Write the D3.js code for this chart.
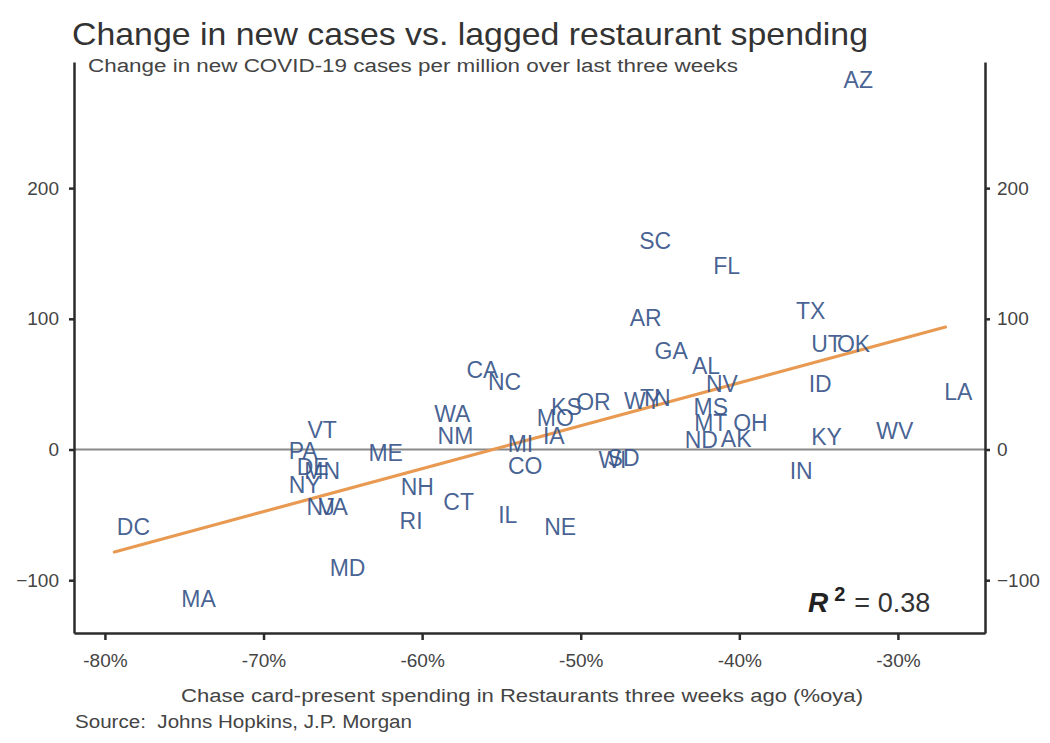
<!DOCTYPE html>
<html>
<head>
<meta charset="utf-8">
<script src="https://cdn.jsdelivr.net/npm/d3@7"></script>
<style>
  body { margin: 0; background: #fff; }
  text { font-family: "Liberation Sans", Arial, sans-serif; }
  .axis path, .axis line { stroke: #2b2b2b; stroke-width: 2.5; }
  .axis text { fill: #444; font-size: 19px; }
</style>
</head>
<body>
<div id="chart"></div>
<script>
// state codes with spending change (%oya) and case change per million
var states = ["AZ","SC","FL","TX","AR","UT","OK","GA","AL","NV","ID","LA","CA","NC",
  "KS","OR","MO","IA","MI","CO","WI","SD","WY","TN","MS","MT","OH","ND","AK","KY","WV","IN",
  "WA","NM","VT","PA","ME","DE","MN","NY","NJ","VA","NH","CT","RI","IL","NE","MD","DC","MA"];
var spending = [-32.5,-45.3,-40.8,-35.5,-45.9,-34.5,-32.8,-44.3,-42.1,-41.1,-34.9,-26.2,-56.2,-54.8,
  -50.9,-49.2,-51.6,-51.7,-53.8,-53.5,-48.0,-47.3,-46.1,-45.3,-41.8,-41.8,-39.3,-42.4,-40.2,-34.5,-30.2,-36.1,
  -58.1,-57.9,-66.3,-67.5,-62.3,-66.9,-66.3,-67.4,-66.4,-65.6,-60.3,-57.7,-60.7,-54.6,-51.3,-64.7,-78.2,-74.1];
var cases = [282.7,159.5,140.4,106.0,100.6,80.7,80.7,75.4,63.9,50.1,50.1,44.0,60.8,51.6,
  32.5,36.3,24.1,10.3,4.2,-12.6,-8.0,-6.5,37.1,39.4,32.5,20.3,20.3,7.3,8.0,9.6,14.2,-16.4,
  27.2,10.3,14.9,-1.1,-2.7,-13.4,-16.1,-27.2,-44.0,-44.0,-28.7,-40.2,-54.7,-50.1,-59.3,-90.7,-59.3,-114.4];

// fitted line end points
var fitX = [-79.4, -27.0];
var fitY = [-78.4, 93.7];

var xTicks = [-80, -70, -60, -50, -40, -30];
var yTicks = [-100, 0, 100, 200];

var width = 1050;
var height = 743;

var svg = d3.select("#chart").append("svg")
    .attr("width", width)
    .attr("height", height);

var x = d3.scaleLinear()
    .domain([-81.95, -24.51])
    .range([74, 985]);

var y = d3.scaleLinear()
    .domain([-140.4, 296.5])
    .range([633, 62]);

// zero line
svg.append("line")
    .attr("x1", x.range()[0]).attr("x2", x.range()[1])
    .attr("y1", y(0)).attr("y2", y(0))
    .attr("stroke", "#8a8a8a")
    .attr("stroke-width", 2);

// regression line
svg.append("line")
    .attr("x1", x(fitX[0])).attr("y1", y(fitY[0]))
    .attr("x2", x(fitX[1])).attr("y2", y(fitY[1]))
    .attr("stroke", "#e99a52")
    .attr("stroke-width", 3.2)
    .attr("stroke-linecap", "round");

// axes
var xAxis = d3.axisBottom(x)
    .tickValues(xTicks)
    .tickSize(7)
    .tickSizeOuter(0)
    .tickPadding(14)
    .tickFormat(function(d) { return d + "%"; });

var yLeft = d3.axisLeft(y)
    .tickValues(yTicks)
    .tickSize(5)
    .tickSizeOuter(0)
    .tickPadding(10)
    .tickFormat(function(d) { return d < 0 ? "\u2212" + Math.abs(d) : d; });

var yRight = d3.axisRight(y)
    .tickValues(yTicks)
    .tickSize(5)
    .tickSizeOuter(0)
    .tickPadding(7)
    .tickFormat(function(d) { return d < 0 ? "\u2212" + Math.abs(d) : d; });

svg.append("g").attr("class", "axis")
    .attr("transform", "translate(0," + y.range()[0] + ")")
    .call(xAxis);

svg.append("g").attr("class", "axis")
    .attr("transform", "translate(" + x.range()[0] + ",0)")
    .call(yLeft);

svg.append("g").attr("class", "axis")
    .attr("transform", "translate(" + x.range()[1] + ",0)")
    .call(yRight);

svg.selectAll(".axis text").attr("fill", "#444").attr("font-size", 20);

// state labels
svg.append("g").selectAll("text")
    .data(states)
    .enter().append("text")
    .attr("x", function(d, i) { return x(spending[i]); })
    .attr("y", function(d, i) { return y(cases[i]); })
    .attr("dy", "0.36em")
    .attr("text-anchor", "middle")
    .attr("font-size", 23)
    .attr("fill", "#37558a")
    .attr("fill-opacity", 0.92)
    .text(function(d) { return d; });

// titles
svg.append("text")
    .attr("x", 72).attr("y", 45)
    .attr("font-size", 32)
    .attr("fill", "#333")
    .attr("textLength", 796)
    .attr("lengthAdjust", "spacingAndGlyphs")
    .text("Change in new cases vs. lagged restaurant spending");

svg.append("text")
    .attr("x", 88).attr("y", 72)
    .attr("font-size", 18)
    .attr("fill", "#444")
    .attr("textLength", 650)
    .attr("lengthAdjust", "spacingAndGlyphs")
    .text("Change in new COVID-19 cases per million over last three weeks");

svg.append("text")
    .attr("x", 181).attr("y", 702)
    .attr("font-size", 18)
    .attr("fill", "#444")
    .attr("textLength", 682)
    .attr("lengthAdjust", "spacingAndGlyphs")
    .text("Chase card-present spending in Restaurants three weeks ago (%oya)");

svg.append("text")
    .attr("x", 75).attr("y", 728)
    .attr("font-size", 18)
    .attr("fill", "#444")
    .attr("textLength", 337)
    .attr("lengthAdjust", "spacingAndGlyphs")
    .attr("xml:space", "preserve")
    .text("Source:  Johns Hopkins, J.P. Morgan");

// R squared note
var r2 = svg.append("text")
    .attr("x", 808).attr("y", 612)
    .attr("fill", "#222");
r2.append("tspan")
    .attr("font-size", 28)
    .attr("font-weight", "bold")
    .attr("font-style", "italic")
    .text("R");
r2.append("tspan")
    .attr("font-size", 20)
    .attr("font-weight", "bold")
    .attr("dx", 6)
    .attr("dy", -11)
    .text("2");
r2.append("tspan")
    .attr("font-size", 27)
    .attr("dx", 9)
    .attr("dy", 11)
    .attr("fill", "#333")
    .text("= 0.38");
</script>
</body>
</html>
